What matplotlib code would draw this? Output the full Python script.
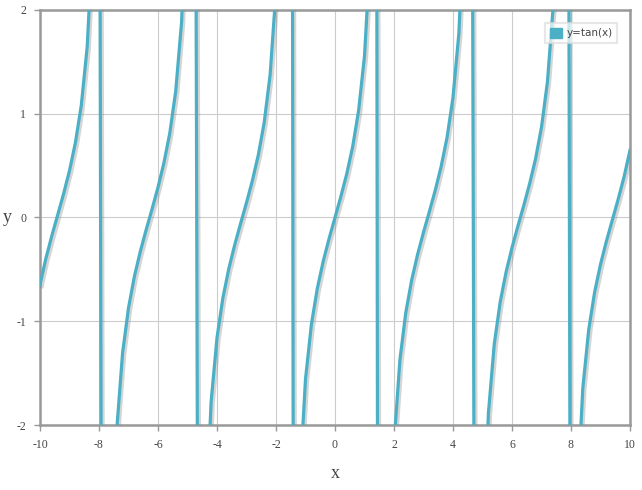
import numpy as np
import matplotlib
matplotlib.use('Agg')
import matplotlib.pyplot as plt
import matplotlib.patheffects as pe
from matplotlib.patches import Patch

# samples of the series, step 0.2 from -10 to 10
xs = [-10.0, -9.8, -9.6, -9.4, -9.2, -9.0, -8.8, -8.6, -8.4, -8.2,
      -8.0, -7.8, -7.6, -7.4, -7.2, -7.0, -6.8, -6.6, -6.4, -6.2,
      -6.0, -5.8, -5.6, -5.4, -5.2, -5.0, -4.8, -4.6, -4.4, -4.2,
      -4.0, -3.8, -3.6, -3.4, -3.2, -3.0, -2.8, -2.6, -2.4, -2.2,
      -2.0, -1.8, -1.6, -1.4, -1.2, -1.0, -0.8, -0.6, -0.4, -0.2,
      0.0, 0.2, 0.4, 0.6, 0.8, 1.0, 1.2, 1.4, 1.6, 1.8,
      2.0, 2.2, 2.4, 2.6, 2.8, 3.0, 3.2, 3.4, 3.6, 3.8,
      4.0, 4.2, 4.4, 4.6, 4.8, 5.0, 5.2, 5.4, 5.6, 5.8,
      6.0, 6.2, 6.4, 6.6, 6.8, 7.0, 7.2, 7.4, 7.6, 7.8,
      8.0, 8.2, 8.4, 8.6, 8.8, 9.0, 9.2, 9.4, 9.6, 9.8, 10.0]
ys = [-0.648, -0.394, -0.177, 0.025, 0.229, 0.452, 0.721, 1.082, 1.646, 2.774,
      6.800, -18.507, -3.852, -2.049, -1.304, -0.871, -0.568, -0.328, -0.117, 0.083,
      0.291, 0.526, 0.814, 1.217, 1.886, 3.381, 11.385, -8.860, -3.096, -1.778,
      -1.158, -0.774, -0.494, -0.264, -0.058, 0.143, 0.356, 0.602, 0.916, 1.374,
      2.185, 4.286, 34.233, -5.798, -2.572, -1.557, -1.030, -0.684, -0.423, -0.203,
      0.0, 0.203, 0.423, 0.684, 1.030, 1.557, 2.572, 5.798, -34.233, -4.286,
      -2.185, -1.374, -0.916, -0.602, -0.356, -0.143, 0.058, 0.264, 0.494, 0.774,
      1.158, 1.778, 3.096, 8.860, -11.385, -3.381, -1.886, -1.217, -0.814, -0.526,
      -0.291, -0.083, 0.117, 0.328, 0.568, 0.871, 1.304, 2.049, 3.852, 18.507,
      -6.800, -2.774, -1.646, -1.082, -0.721, -0.452, -0.229, -0.025, 0.177, 0.394, 0.648]
xticks = [-10, -8, -6, -4, -2, 0, 2, 4, 6, 8, 10]
yticks = [-2, -1, 0, 1, 2]
series_name = 'y=tan(x)'

color = '#4bafc6'
fig = plt.figure(figsize=(6.42, 4.90), dpi=100)
ax = fig.add_axes([40 / 642, 1 - 425 / 490, 590 / 642, 415 / 490])

shadow = [pe.SimpleLineShadow(offset=(1.5, -1.5), shadow_color='#888888', alpha=0.35),
          pe.Normal()]
ax.plot(xs, ys, color=color, lw=2.3, path_effects=shadow, zorder=3)

ax.set_xlim(-10, 10)
ax.set_ylim(-2, 2)
ax.set_xticks(xticks)
ax.set_yticks(yticks)
ax.grid(True, color='#cccccc', lw=0.8)
ax.set_axisbelow(True)

for s in ax.spines.values():
    s.set_color('#999999')
    s.set_linewidth(1.8)
    s.set_path_effects([pe.SimplePatchShadow(offset=(1.5, -1.5), alpha=0.15), pe.Normal()])

tick_font = dict(family='Liberation Serif', size=8.5)
ax.tick_params(colors='#999999', length=4, width=1, labelcolor='#444444', pad=6)
ax.set_xticklabels([str(t) for t in xticks], **tick_font)
ax.set_yticklabels([str(t) for t in yticks], **tick_font)

ax.set_xlabel('x', family='Liberation Serif', size=13, color='#444444', labelpad=10)
ax.set_ylabel('y', family='Liberation Serif', size=13, color='#444444', rotation=0,
              ha='center', va='center')
ax.yaxis.set_label_coords(-33 / 590, 0.5)

leg = ax.legend(handles=[Patch(facecolor=color, edgecolor=color, label=series_name)],
                loc='upper right', bbox_to_anchor=(0.978, 0.969), fontsize=7.5,
                handlelength=1.2, handleheight=1.2, handletextpad=0.4,
                borderpad=0.45, framealpha=0.7, fancybox=False,
                edgecolor='#dddddd', borderaxespad=0.0)
leg.get_frame().set_linewidth(1.5)
for t in leg.get_texts():
    t.set_color('#444444')

fig.savefig('out.png', dpi=100)
